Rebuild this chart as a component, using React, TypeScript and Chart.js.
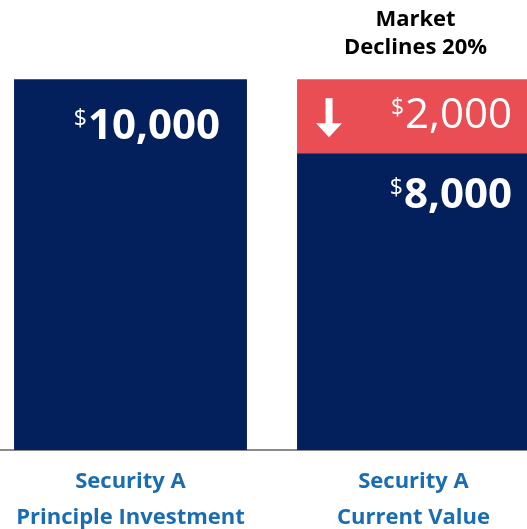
import React, { useEffect, useRef } from "react";
import { Chart, registerables } from "chart.js";

Chart.register(...registerables);

const categories: string[][] = [
  ["Security A", "Principle Investment"],
  ["Security A", "Current Value"],
];
const remainingValues = [10000, 8000];
const declineValues = [0, 2000];
const annotationLines = ["Market", "Declines 20%"];

const NAVY = "#03205C";
const RED = "#E94E55";
const BLUE = "#1B6DB3";
const FONT = "'Open Sans', 'DejaVu Sans', sans-serif";

const fmt = (v: number) => v.toLocaleString("en-US");

const labelPlugin = {
  id: "valueLabels",
  afterDatasetsDraw(chart: any) {
    const ctx: CanvasRenderingContext2D = chart.ctx;
    ctx.save();
    chart.data.datasets.forEach((ds: any, di: number) => {
      const meta = chart.getDatasetMeta(di);
      meta.data.forEach((bar: any, i: number) => {
        const v = ds.data[i];
        if (!v) return;
        const right = bar.x + bar.width / 2 - (i === 0 ? 27 : 18);
        const isDecline = di === 1;
        const top = Math.min(bar.y, bar.base);
        const baseline = isDecline ? top + 49 : top + (i === 0 ? 60 : 55);
        ctx.fillStyle = "#ffffff";
        ctx.textBaseline = "alphabetic";
        ctx.textAlign = "right";
        ctx.font = `${isDecline ? "normal" : "bold"} 42px ${FONT}`;
        const txt = fmt(v);
        const w = ctx.measureText(txt).width;
        ctx.fillText(txt, right, baseline);
        ctx.font = `normal 23px ${FONT}`;
        ctx.fillText("$", right - w - 1, baseline - 13);
        if (isDecline) {
          // down arrow
          const cx = bar.x - bar.width / 2 + 32;
          ctx.beginPath();
          ctx.rect(cx - 3.5, top + 19, 7, 26);
          ctx.fill();
          ctx.beginPath();
          ctx.moveTo(cx - 13, top + 44);
          ctx.lineTo(cx + 13, top + 44);
          ctx.lineTo(cx, top + 58);
          ctx.closePath();
          ctx.fill();
          // annotation above
          ctx.fillStyle = "#000000";
          ctx.textAlign = "center";
          ctx.textBaseline = "middle";
          ctx.font = `bold 22px ${FONT}`;
          ctx.fillText(annotationLines[0], bar.x + 2, top - 59);
          ctx.fillText(annotationLines[1], bar.x + 2, top - 31);
        }
      });
    });
    ctx.restore();
  },
};

export default function App() {
  const ref = useRef<HTMLCanvasElement | null>(null);
  useEffect(() => {
    document.body.style.margin = "0";
    document.body.style.overflow = "hidden";
    const chart = new Chart(ref.current as HTMLCanvasElement, {
      type: "bar",
      data: {
        labels: categories,
        datasets: [
          {
            data: remainingValues,
            backgroundColor: NAVY,
            barPercentage: 0.823,
            categoryPercentage: 1,
          },
          {
            data: declineValues,
            backgroundColor: RED,
            barPercentage: 0.823,
            categoryPercentage: 1,
          },
        ],
      },
      options: {
        animation: false,
        responsive: true,
        maintainAspectRatio: false,
        layout: { padding: { top: 5, left: 0, right: 0, bottom: 0 } },
        plugins: {
          legend: { display: false },
          tooltip: { enabled: false },
          title: { display: false },
        },
        scales: {
          x: {
            stacked: true,
            grid: { display: false, drawTicks: false },
            border: { display: true, color: "#8a8a8a", width: 2 },
            ticks: {
              color: BLUE,
              padding: 14,
              font: { family: FONT, size: 22, weight: "bold", lineHeight: 36 / 22 },
            },
          },
          y: {
            stacked: true,
            display: false,
            min: 0,
            max: 12000,
          },
        },
      },
      plugins: [labelPlugin],
    } as any);
    return () => chart.destroy();
  }, []);
  return (
    <div style={{ position: "fixed", left: 0, top: 0, width: 527, height: 529, overflow: "hidden", background: "#fff" }}>
      <div style={{ position: "absolute", left: -11, top: 0, width: 566, height: 550 }}>
        <canvas ref={ref} />
      </div>
    </div>
  );
}
